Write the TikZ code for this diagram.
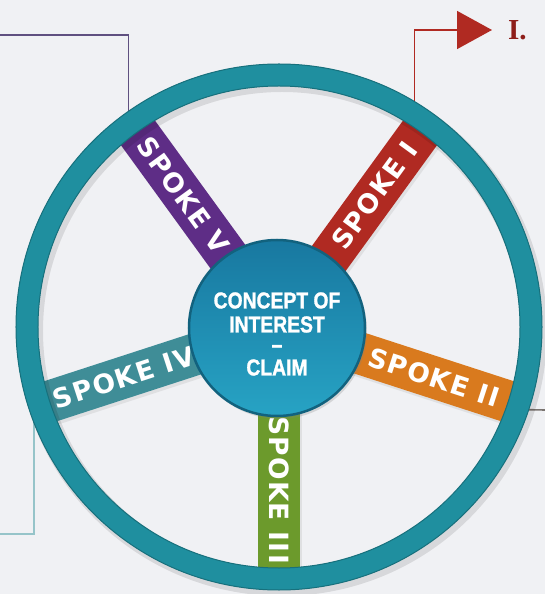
\documentclass[tikz,border=0pt]{standalone}
\usepackage{fontspec}
\usetikzlibrary{positioning,arrows.meta,shadows}

\newfontfamily\spokefont[LetterSpace=5]{DejaVu Sans}
\newfontfamily\hubfont[FakeStretch=0.84, FakeBold=1.2, BoldFont={Liberation Sans Bold}]{Liberation Sans Bold}
\newfontfamily\labelfont{Liberation Serif}

\definecolor{bgcol}{HTML}{F0F1F4}
\definecolor{ringteal}{HTML}{1F8F9F}
\definecolor{ringdark}{HTML}{17707C}
\definecolor{hubtop}{HTML}{1878A0}
\definecolor{hubbot}{HTML}{27A3C4}
\definecolor{hubedge}{HTML}{12627E}
\definecolor{spokered}{HTML}{B02A22}
\definecolor{spokepurple}{HTML}{5E2D86}
\definecolor{spokeorange}{HTML}{D97A1E}
\definecolor{spoketeal}{HTML}{3F8D97}
\definecolor{spokegreen}{HTML}{6C9A2C}
\definecolor{linkpurple}{HTML}{5F5080}
\definecolor{linkteal}{HTML}{96C4C9}
\definecolor{linkgray}{HTML}{7A7470}
\definecolor{labelred}{HTML}{8E1E1A}

\tikzset{
  spoke/.style={rectangle, minimum width=180, minimum height=42, inner sep=0,
    text=white, font=\spokefont\bfseries\fontsize{26.5}{26}\selectfont,
    drop shadow={opacity=.15, shadow xshift=2pt, shadow yshift=-3pt}},
  hubtext/.style={align=center, text=white, inner sep=0,
    font=\hubfont\fontsize{23}{24}\selectfont},
  link/.style={line width=1.6},
}

\begin{document}
\begin{tikzpicture}[x=1pt, y=1pt]
    \useasboundingbox[fill=bgcol] (-279,-267) rectangle (266,327);
    % free ends of the connectors
    \coordinate (v-in) at (-279,292);
    \coordinate (v-ring) at (125.1:262);
    \coordinate (i-ring) at (58.9:262);
    \coordinate (i-tip) at (213,297);
    \coordinate (iv-ring) at (200.7:262);
    \coordinate (iv-out) at (-279,-207);
    \coordinate (ii-ring) at (-18.4:262);
    \coordinate (ii-out) at (266,-83);
    \draw[link, draw=linkpurple] (v-in) -| (v-ring);
    \draw[link, draw=spokered, -{Triangle[length=35pt,width=38pt]}] (i-ring) |- (i-tip);
    \draw[link, draw=linkteal] (iv-ring) |- (iv-out);
    \draw[link, draw=linkgray] (ii-ring) -- (ii-out);
    \node[right=16pt of i-tip, inner sep=0, text=labelred,
      font=\labelfont\bfseries\fontsize{29}{29}\selectfont] (lab-i) {I.};

    % spokes
    \node[spoke, fill=spokered, rotate=54] (spoke-i) at (54:163) {SPOKE I};
    \node[spoke, fill=spokeorange, rotate=-18] (spoke-ii) at (-18:163) {SPOKE II};
    \node[spoke, fill=spokegreen, rotate=-90] (spoke-iii) at (-90:163) {SPOKE III};
    \node[spoke, fill=spoketeal, rotate=18] (spoke-iv) at (198:163) {SPOKE IV};
    \node[spoke, fill=spokepurple, rotate=-54] (spoke-v) at (126:163) {SPOKE V};

    % rim
    \draw[line width=26, black, opacity=.10] (3,-4) circle (252);
    \draw[line width=22, draw=ringteal] (0,0) circle (252);
    \draw[line width=1, draw=ringdark] (0,0) circle (263) (0,0) circle (241);

    % hub
    \node[circle, minimum size=176, inner sep=0, draw=hubedge, line width=2.5,
      top color=hubtop, bottom color=hubbot,
      drop shadow={opacity=.25, shadow xshift=2pt, shadow yshift=-3pt}] (hub) at (-2,-1) {};
    \node[hubtext, yshift=-6] (claim) at (hub) {CONCEPT OF\\INTEREST\\[-4pt]–\\[-1pt]CLAIM};
\end{tikzpicture}
\end{document}
